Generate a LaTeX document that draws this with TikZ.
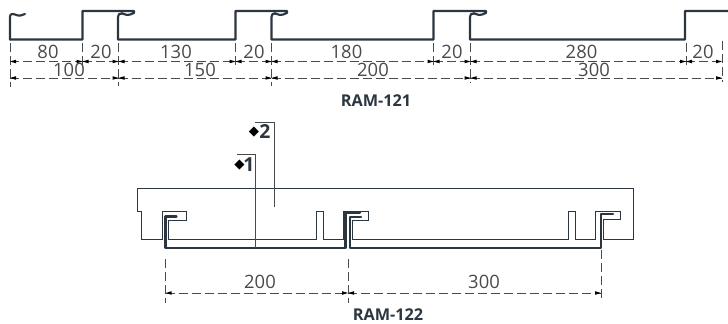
\documentclass[tikz,border=0pt]{standalone}
\usepackage{fontspec}
\setmainfont{Open Sans}
\newfontfamily\symfont{DejaVu Sans}
\usetikzlibrary{arrows.meta}
\definecolor{prof}{HTML}{2B3640}
\definecolor{dimc}{HTML}{4A4A4A}
\tikzset{x=0.75pt,y=-0.75pt,
 thick profile/.style={draw=prof,line width=1.6pt,line join=round,line cap=round},
 thin profile/.style={draw=prof,line width=0.75pt,line join=miter},
 ext/.style={draw=dimc,line width=0.6pt,dash pattern=on 7pt off 2.75pt},
 dimline/.style={draw=dimc,line width=0.6pt,dash pattern=on 7pt off 2.75pt},
 dimlabel/.style={font=\fontsize{13.8}{15}\selectfont,text=dimc,inner sep=0pt},
 titlelabel/.style={font=\fontsize{12.2}{14}\selectfont\bfseries,text=prof,inner sep=0pt},
 mark label/.style={font=\fontsize{14.5}{15}\selectfont\bfseries,text=prof,inner sep=0pt},
 mark symbol/.style={font=\fontsize{10}{10}\selectfont\symfont,text=black,inner sep=0pt},
 leader/.style={draw=dimc,line width=0.7pt},
}
\newcommand{\tipR}[2]{\fill[black] (#1,#2) -- (#1-6,#2-1.8) -- (#1-6,#2+1.8) -- cycle;}
\newcommand{\tipL}[2]{\fill[black] (#1,#2) -- (#1+6,#2-1.8) -- (#1+6,#2+1.8) -- cycle;}
\newcommand{\dimspan}[3]{\draw[dimline] (#1,#3) -- (#2,#3); \tipL{#1}{#3} \tipR{#2}{#3}}
\begin{document}
\begin{tikzpicture}
\useasboundingbox (0,0) rectangle (728,324);
% top profile
\draw[thick profile] (10,39.5) -- (10,17) .. controls (10,14) and (12,13.5) .. (15,14.5) .. controls (19,16.5) and (22,15.5) .. (25,14);
\draw[thick profile] (10,39.5) -- (82.5,39.5) -- (82.5,11) -- (134,11) -- (134,13) .. controls (128,16) and (125,15) .. (122,13.5) .. controls (119,13) and (118,15) .. (118,17) -- (118,39.5)
 -- (235.5,39.5) -- (235.5,11) -- (287,11) -- (287,13) .. controls (281,16) and (278,15) .. (275,13.5) .. controls (272.5,13) and (271.5,15) .. (271.5,17) -- (271.5,39.5)
 -- (433.5,39.5) -- (433.5,11) -- (486,11) -- (486,13) .. controls (480,16) and (477,15) .. (474,13.5) .. controls (471,13) and (470,15) .. (470,17) -- (470,39.5)
 -- (685,39.5) -- (685,11) -- (728,11);
% extension lines
\foreach \x/\a/\b in {10/43/87,82.5/43/66,118.5/43/86,235.5/43/66,271.5/43/86,433.5/43/66,470.5/43/83,686/43/66,722/41/82}
 \draw[ext] (\x,\a) -- (\x,\b);
% dimension lines
\dimspan{10}{82.5}{61.5}
\dimspan{82.5}{118.5}{61.5}
\dimspan{118.5}{235.5}{61.5}
\dimspan{235.5}{271.5}{61.5}
\dimspan{271.5}{433.5}{61.5}
\dimspan{433.5}{470.5}{61.5}
\dimspan{470.5}{686}{61.5}
\dimspan{686}{722}{61.5}
\dimspan{10}{118.5}{78}
\dimspan{118.5}{271.5}{78}
\dimspan{271.5}{470.5}{78}
\dimspan{470.5}{722}{78}
% labels top
\node[dimlabel] (a1) at (48,52) {80};
\node[dimlabel] (a2) at (101,52) {20};
\node[dimlabel] (a3) at (176,52) {130};
\node[dimlabel] (a4) at (254,52) {20};
\node[dimlabel] (a5) at (346.5,52) {180};
\node[dimlabel] (a6) at (452,52) {20};
\node[dimlabel] (a7) at (581.5,52) {280};
\node[dimlabel] (a8) at (703,52) {20};
\node[dimlabel] (b1) at (69,70) {100};
\node[dimlabel] (b2) at (200,70) {150};
\node[dimlabel] (b3) at (373,70) {200};
\node[dimlabel] (b4) at (594,70) {300};
\node[titlelabel] (t1) at (376,100.5) {RAM-121};
% bottom: thin outline
\draw[thin profile] (137.5,189) -- (137.5,211.5) -- (141,211.5) -- (141,239.5) -- (162,239.5) -- (162,211.5) -- (186,211.5) -- (186,220) -- (168,220) -- (168,239.5) -- (316.5,239.5) -- (316.5,211.5) -- (323,211.5) -- (323,239.5) -- (343.5,239.5) -- (343.5,211.5) -- (368,211.5) -- (368,220) -- (352.5,220) -- (352.5,239.5) -- (568,239.5) -- (568,211.5) -- (575,211.5) -- (575,239.5) -- (595.5,239.5) -- (595.5,211.5) -- (620,211.5) -- (620,219.5) -- (603.5,219.5) -- (603.5,239.5) -- (633.5,239.5) -- (633.5,189) -- cycle;
% bottom: heavy profile
\draw[thick profile] (176.5,216.5) -- (165.5,216.5) -- (165.5,248) -- (345.5,248) -- (345.5,212.5) -- (360,212.5);
\draw[thick profile] (361,217) -- (349.8,217) -- (349.8,248) -- (601,248) -- (601,214) -- (613,214);
% leaders
\coordinate (l1a) at (236.5,154.5);
\coordinate (l1b) at (255,154.5);
\coordinate (l1c) at (255,248);
\coordinate (l2a) at (255,122);
\coordinate (l2b) at (274,122);
\coordinate (l2c) at (274,207);
\draw[leader] (l1a) -- (l1b) -- (l1c);
\draw[leader] (l2a) -- (l2b) -- (l2c);
\node[mark symbol] (d1) at (239.5,165) {◆};
\node[mark label] (m1) at (249,165) {1};
\node[mark symbol] (d2) at (254,132) {◆};
\node[mark label] (m2) at (265,132) {2};
% bottom dims
\draw[ext] (165.7,259) -- (165.7,303);
\draw[ext] (348,259) -- (348,303);
\draw[ext] (601,250) -- (601,300);
\dimspan{165.7}{348}{293}
\dimspan{348}{601}{293}
\node[dimlabel] (c1) at (260,282) {200};
\node[dimlabel] (c2) at (484,282) {300};
\node[titlelabel] (t2) at (388,315) {RAM-122};
\end{tikzpicture}
\end{document}
